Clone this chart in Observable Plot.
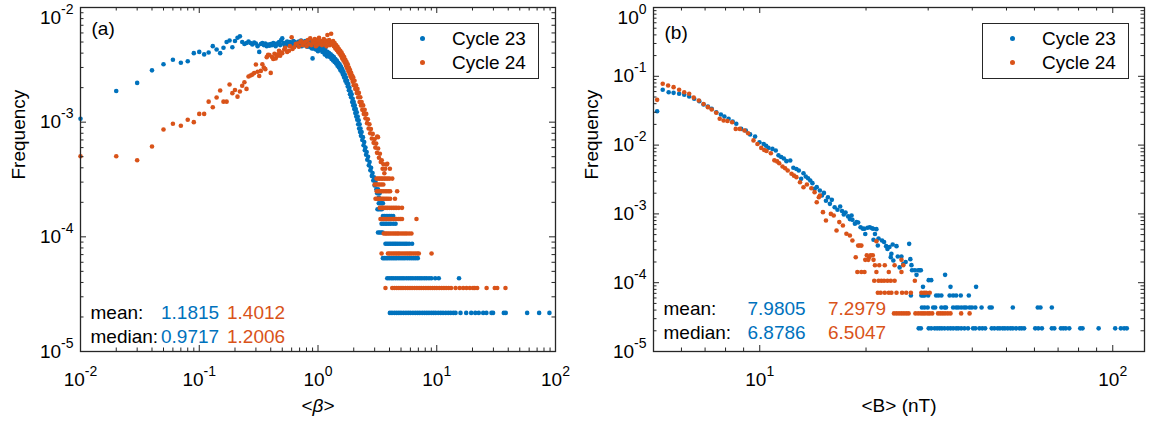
<!DOCTYPE html>
<html><head><meta charset="utf-8">
<script src="https://cdn.jsdelivr.net/npm/d3@7"></script>
<script src="https://cdn.jsdelivr.net/npm/@observablehq/plot@0.6"></script>
<style>
body{margin:0;background:#fff;}
#wrap{position:relative;width:1149px;height:421px;display:flex;font-family:"Liberation Sans",Arial,Helvetica,sans-serif;}
#wrap svg{display:block;}
.lg{position:absolute;box-sizing:border-box;border:1.5px solid #262626;background:#fff;height:56px;}
.lg .row{position:absolute;height:24px;line-height:24px;font-size:19px;color:#000;white-space:nowrap;}
.lg .dot{position:absolute;width:5px;height:5px;border-radius:50%;}
</style></head><body><div id="wrap"></div><script>
// ---------- Panel (a): <beta> ----------
const beta23Curve = [[0.01,1.07e-3],[0.02,1.87e-3],[0.03,2.2e-3],[0.04,2.83e-3],[0.05,3.2e-3],[0.06,3.5e-3],[0.07,3.3e-3],[0.08,3.4e-3],[0.09,4.0e-3],[0.10,4.1e-3],[0.11,3.9e-3],[0.12,4.05e-3],[0.13,4.6e-3],[0.14,4.3e-3],[0.15,4.0e-3],[0.16,4.45e-3],[0.17,5.0e-3],[0.18,5.15e-3],[0.19,4.5e-3],[0.20,5.1e-3],[0.21,5.45e-3],[0.22,5.6e-3],[0.23,5.0e-3],[0.24,4.8e-3],[0.25,4.9e-3],[0.26,5.05e-3],[0.27,4.9e-3],[0.28,4.75e-3],[0.29,4.95e-3],[0.30,4.85e-3],[0.31,4.6e-3],[0.32,4.1e-3],[0.33,4.8e-3],[0.34,4.9e-3],[0.35,4.7e-3],[0.36,4.85e-3],[0.37,4.6e-3],[0.38,4.75e-3],[0.39,4.65e-3],[0.40,4.8e-3],[0.41,4.7e-3],[0.42,4.9e-3],[0.43,4.75e-3],[0.44,4.6e-3],[0.45,4.85e-3],[0.46,4.8e-3],[0.47,5.0e-3],[0.48,4.7e-3],[0.49,5.2e-3],[0.50,5.4e-3],
[0.51,4.9e-3],[0.52,4.75e-3],[0.53,4.6e-3],[0.54,4.95e-3],[0.55,5.05e-3],[0.56,4.8e-3],[0.57,4.7e-3],[0.58,5.0e-3],[0.59,4.85e-3],[0.60,4.6e-3],[0.62,5.1e-3],[0.63,4.8e-3],[0.64,5.0e-3],[0.65,4.7e-3],[0.66,4.9e-3],[0.68,4.75e-3],[0.69,5.05e-3],[0.70,4.85e-3],[0.72,5.15e-3],[0.73,4.6e-3],[0.74,4.9e-3],[0.76,5.0e-3],[0.77,4.7e-3],[0.78,5.1e-3],[0.80,4.8e-3],[0.81,4.55e-3],[0.82,4.95e-3],[0.84,4.7e-3],[0.85,5.05e-3],[0.86,4.5e-3],[0.88,4.85e-3],[0.89,4.4e-3],[0.90,3.6e-3],[0.91,4.75e-3],[0.92,4.4e-3],[0.93,5.0e-3],[0.95,4.6e-3],[0.96,4.3e-3],[0.97,4.8e-3],[0.99,4.5e-3],[1.00,4.15e-3],[1.01,4.7e-3],[1.03,4.4e-3],[1.04,4.9e-3],[1.06,4.25e-3],[1.07,4.6e-3],[1.09,4.1e-3],[1.10,4.5e-3],[1.12,4.3e-3],[1.14,3.9e-3],[1.15,4.4e-3],[1.17,4.1e-3],[1.19,3.75e-3],
[1.20,4.1e-3],[1.22,3.8e-3],[1.24,4.0e-3],[1.26,3.7e-3],[1.28,3.9e-3],[1.30,3.55e-3],[1.32,3.8e-3],[1.34,3.45e-3],[1.36,3.7e-3],[1.38,3.35e-3],[1.40,3.55e-3],[1.42,3.25e-3],[1.44,3.45e-3],[1.46,3.1e-3],[1.48,3.3e-3],[1.50,3.0e-3],[1.52,3.2e-3],[1.54,2.85e-3],[1.56,3.05e-3],[1.58,2.75e-3],[1.60,2.9e-3],[1.62,2.6e-3],[1.64,2.75e-3],[1.66,2.45e-3],[1.68,2.6e-3],[1.70,2.3e-3],[1.72,2.45e-3],[1.74,2.2e-3],[1.76,2.3e-3],[1.78,2.05e-3],[1.80,2.15e-3],[1.82,1.9e-3],[1.84,2.0e-3],[1.86,1.75e-3],[1.88,1.85e-3],[1.90,1.65e-3],[1.92,1.75e-3],[1.94,1.5e-3],[1.96,1.6e-3],[1.98,1.4e-3],[2.00,1.5e-3],[2.02,1.3e-3],[2.04,1.4e-3],[2.06,1.2e-3],[2.08,1.3e-3],[2.10,1.12e-3],[2.12,1.22e-3],[2.14,1.05e-3],[2.16,1.12e-3],[2.18,9.6e-4],[2.20,1.04e-3],[2.22,8.8e-4],[2.24,9.6e-4],[2.26,8.2e-4],[2.28,8.8e-4],[2.30,7.6e-4],[2.33,8.2e-4],[2.36,7.0e-4],[2.39,7.4e-4],[2.42,6.3e-4],[2.45,6.7e-4],[2.48,5.7e-4],[2.51,6.0e-4],[2.54,5.2e-4],[2.57,5.5e-4],[2.60,4.7e-4],[2.64,5.0e-4],[2.68,4.2e-4],[2.72,4.5e-4],[2.76,3.8e-4],[2.80,4.0e-4],[2.84,3.4e-4],[2.88,3.6e-4],[2.92,3.1e-4],[2.96,3.3e-4],[3.00,2.8e-4],[3.05,3.0e-4],[3.10,2.6e-4],[3.15,2.4e-4],[3.20,2.6e-4],[3.25,2.2e-4],[3.30,2.4e-4]];
const beta23Levels = [2.17e-5,4.35e-5,6.52e-5,8.7e-5,1.09e-4,1.3e-4,1.52e-4,1.74e-4,1.96e-4];
const beta23Rows = [
 [4.03,4.2,4.4,4.6,4.8,5.0,5.25,5.5,5.75,6.0,6.3,6.6,6.9,7.2,7.55,7.9,8.25,8.6,9.0,9.4,9.8,10.3,10.8,11.3,11.9,12.5,13.1,13.8,14.4,15.85,17.7,19.5,21.1,22.6,24.6,26.2,28.9,29.8,36.7,38.1,57.7,72.8,88.9],
 [3.83,3.98,4.15,4.3,4.5,4.7,4.9,5.1,5.3,5.55,5.8,6.05,6.3,6.6,6.9,7.2,7.5,7.85,8.2,8.6,9.0,9.7,10.4,15.4],
 [3.52,3.62,3.74,3.86,4.0,4.15,4.3,4.45,4.6,4.8,5.0,5.2,5.4,5.65,5.9,6.15,6.4,6.65,6.92],
 [3.70,3.82,3.95,4.08,4.22,4.36,4.5,4.65,4.82,5.0,5.2,5.4,5.6,5.85,6.2],
 [3.2,3.3,3.4,3.5],
 [3.43,3.55,3.68,3.8,3.95,4.1,4.3,4.5],
 [3.52,3.62,3.75,3.88,4.02,4.15,4.3],
 [3.17,3.25,3.35,3.45],
 [3.25,3.35,3.45,3.52]];
const beta24Curve = [[0.01,5.05e-4],[0.02,5.05e-4],[0.03,4.66e-4],[0.04,6.14e-4],[0.05,8.63e-4],[0.06,9.68e-4],[0.07,9.3e-4],[0.08,1.05e-3],[0.09,1.0e-3],[0.10,1.18e-3],[0.11,1.18e-3],[0.12,1.51e-3],[0.13,1.35e-3],[0.14,1.64e-3],[0.15,1.89e-3],[0.16,1.51e-3],[0.17,1.51e-3],[0.18,2.13e-3],[0.19,1.79e-3],[0.20,1.91e-3],[0.21,1.67e-3],[0.22,1.85e-3],[0.23,2.08e-3],[0.24,2.23e-3],[0.25,1.95e-3],[0.26,2.5e-3],[0.27,2.55e-3],[0.28,2.6e-3],[0.29,2.68e-3],[0.30,3.18e-3],[0.31,2.75e-3],[0.32,2.53e-3],[0.33,2.8e-3],[0.34,3.2e-3],[0.35,3.0e-3],[0.36,2.9e-3],[0.37,3.69e-3],[0.38,3.87e-3],[0.39,3.85e-3],[0.40,2.69e-3],[0.41,3.7e-3],[0.42,3.55e-3],[0.43,3.95e-3],[0.44,3.6e-3],[0.45,3.75e-3],[0.46,3.9e-3],[0.47,4.2e-3],[0.48,3.8e-3],[0.49,4.05e-3],[0.50,4.0e-3],
[0.52,4.3e-3],[0.53,4.45e-3],[0.55,4.1e-3],[0.57,4.2e-3],[0.58,4.6e-3],[0.60,5.5e-3],[0.61,4.35e-3],[0.63,4.5e-3],[0.65,4.8e-3],[0.67,4.85e-3],[0.69,4.55e-3],[0.71,5.0e-3],[0.72,5.1e-3],[0.74,4.7e-3],[0.76,4.9e-3],[0.78,5.0e-3],[0.80,4.6e-3],[0.82,5.2e-3],[0.84,4.8e-3],[0.86,5.4e-3],[0.88,4.7e-3],[0.90,5.1e-3],[0.92,4.9e-3],[0.94,5.3e-3],[0.96,4.6e-3],[0.97,4.9e-3],[0.99,5.2e-3],[1.00,4.75e-3],[1.02,5.45e-3],[1.04,4.9e-3],[1.06,5.1e-3],[1.08,4.7e-3],[1.10,5.0e-3],[1.12,5.3e-3],[1.14,4.8e-3],[1.16,5.15e-3],[1.18,4.6e-3],[1.20,5.75e-3],[1.22,4.95e-3],[1.24,5.2e-3],[1.26,4.7e-3],[1.29,5.9e-3],[1.30,5.0e-3],[1.32,4.8e-3],[1.34,5.1e-3],[1.36,4.6e-3],[1.38,4.9e-3],[1.40,4.4e-3],[1.42,4.7e-3],[1.44,4.25e-3],[1.46,4.55e-3],[1.48,4.1e-3],[1.50,4.35e-3],[1.52,3.95e-3],[1.54,4.2e-3],[1.56,3.8e-3],[1.58,4.05e-3],[1.60,3.6e-3],[1.62,3.85e-3],[1.64,3.45e-3],[1.66,3.7e-3],[1.68,3.3e-3],[1.70,3.5e-3],[1.72,3.1e-3],[1.74,3.35e-3],[1.76,2.95e-3],[1.78,3.2e-3],[1.80,2.8e-3],[1.82,3.0e-3],[1.84,2.65e-3],[1.86,2.85e-3],[1.88,2.5e-3],[1.90,2.7e-3],[1.92,2.4e-3],[1.94,2.55e-3],[1.96,2.25e-3],[1.98,2.45e-3],[2.00,2.1e-3],[2.03,2.3e-3],[2.06,1.95e-3],[2.09,2.1e-3],[2.12,1.8e-3],[2.15,1.95e-3],[2.18,1.65e-3],[2.21,1.8e-3],[2.24,1.5e-3],[2.27,1.65e-3],[2.30,1.4e-3],[2.33,1.5e-3],[2.36,1.28e-3],[2.40,1.4e-3],[2.43,1.18e-3],[2.47,1.28e-3],[2.51,1.08e-3],[2.55,1.18e-3],[2.59,9.8e-4],[2.63,1.06e-3],[2.67,8.8e-4],[2.71,9.6e-4],[2.75,8.0e-4],[2.79,8.7e-4],[2.84,7.2e-4],[2.89,7.9e-4],[2.94,6.6e-4],[2.99,7.1e-4],[3.04,6.0e-4],[3.09,6.5e-4],[3.15,7.5e-4],[3.20,7.4e-4],[3.14,5.4e-4],[3.21,5.9e-4],[3.26,4.9e-4],[3.32,5.3e-4],[3.38,4.5e-4],[3.44,4.65e-4],[3.50,3.93e-4],[3.56,4.3e-4],[3.62,3.58e-4],[3.68,3.93e-4],[3.78,4.28e-4],[3.83,4.33e-4],[4.03,3.92e-4]];
const beta24Levels = [3.58e-5,7.16e-5,1.07e-4,1.43e-4,1.79e-4,2.15e-4,2.5e-4,2.86e-4,3.22e-4];
const beta24Rows = [
 [3.70,4.22,4.4,4.6,4.8,5.0,5.2,5.45,5.7,5.95,6.2,6.5,6.8,7.1,7.4,7.75,8.1,8.45,8.8,9.2,9.6,10.0,10.5,11.0,11.5,12.0,12.6,13.2,14.4,15.6,16.7,17.8,19.0,20.2,20.9,21.9,26.3,30.8,32.3,37.9],
 [3.43,3.88,4.0,4.15,4.3,4.45,4.6,4.75,4.9,5.1,5.3,5.5,5.7,5.9,6.1,6.35,6.6,6.85,7.06,9.04],
 [3.58,3.7,3.8,3.92,4.05,4.2,4.35,4.5,4.65,4.8,5.0,5.2,5.4,5.6,5.85,6.12],
 [3.36,3.46,3.56,3.66,3.78,3.9,4.02,4.15,4.3,4.45,4.6,4.8,4.95,5.1,6.75],
 [3.31,3.42,3.52,3.62,3.74,3.86,4.0,4.15,4.3,4.45,4.6,4.8,5.1],
 [3.05,3.15,3.25,3.35,3.45,3.55,3.66,3.78,3.9,4.05,4.45],
 [3.12,3.22,3.33,3.44,3.55,3.68,3.8,3.93,4.05,4.64],
 [3.0,3.1,3.2,3.3,3.42,3.55],
 [3.11,3.2,3.3,3.4,3.5,3.62,3.74,3.87,4.0,4.22]];
const betaMean = ["1.1815","1.4012"];
const betaMedian = ["0.9717","1.2006"];

// ---------- Panel (b): <B> (nT) ----------
const b23Curve = [[5.12,3.11e-2],[5.31,6.36e-2],[5.52,5.87e-2],[5.70,5.75e-2],[5.91,5.57e-2],[6.11,5.38e-2],[6.31,5.09e-2],[6.52,4.71e-2],[6.74,4.35e-2],[6.93,3.89e-2],[7.13,3.64e-2],[7.31,3.37e-2],[7.53,3.0e-2],[7.76,2.79e-2],[7.94,2.6e-2],[8.16,2.41e-2],[8.38,2.2e-2],[8.58,2.04e-2],[8.86,1.72e-2],[9.13,1.63e-2],[9.39,1.43e-2],[9.70,1.33e-2],[9.98,1.1e-2],[10.26,1.04e-2],[10.42,9.8e-3],[10.58,9.1e-3],[10.86,8.8e-3],[11.1,8.35e-3],[11.3,7.1e-3],[11.5,6.7e-3],[11.7,6.4e-3],[11.9,5.84e-3],[12.2,5.97e-3],[12.45,4.68e-3],[12.7,4.5e-3],[12.9,4.27e-3],[13.1,3.23e-3],[13.3,3.9e-3],[13.5,3.5e-3],[13.7,3.3e-3],[13.9,3.06e-3],[14.1,2.8e-3],[14.3,2.31e-3],[14.5,2.45e-3],[14.8,2.19e-3],[15.0,1.85e-3],[15.2,2.02e-3],[15.4,1.55e-3],[15.6,1.75e-3],[15.8,1.4e-3],[16.0,1.6e-3],[16.3,1.25e-3],[16.6,1.15e-3],[16.9,1.28e-3],[17.1,1.1e-3],[17.3,9.8e-4],[17.5,1.05e-3],[17.8,9.2e-4],[18.0,8.4e-4],[18.2,9.5e-4],[18.3,8.2e-4],[18.6,7.2e-4],[18.8,7.6e-4],[19.0,7.5e-4],[19.3,6.4e-4],[19.6,6.1e-4],[19.8,6.07e-4],[19.9,5.1e-4],[20.2,6.3e-4],[20.5,6.4e-4],[20.8,6.2e-4],[20.95,6.07e-4],[21.0,4.2e-4],[21.2,5.1e-4],[21.4,6.0e-4],[21.6,3.47e-4],[21.7,4.4e-4],[22.2,4.1e-4],[22.5,3.9e-4],[22.8,3.4e-4],[23.0,3.1e-4],[23.3,3.3e-4],[23.5,2.35e-4],[23.6,2.63e-4],[23.8,3.6e-4],[23.9,2.1e-4],[24.4,3.4e-4],[24.6,2.4e-4],[24.9,1.67e-4],[25.2,2.4e-4],[25.5,1.87e-4],[25.9,2.0e-4],[26.5,3.67e-4],[26.7,2.2e-4],[26.9,1.8e-4]];
const b23Levels = [2.17e-5,4.35e-5,6.52e-5,8.7e-5,1.09e-4,1.3e-4,1.52e-4];
const b23Rows = [
 [28.2,28.6,30.1,30.6,31.3,31.8,32.3,32.8,33.4,34.1,34.7,35.3,36.0,36.5,37.2,38.0,38.9,40.2,40.8,41.9,42.7,43.5,45.4,46.2,47.2,47.9,48.8,49.5,50.4,51.3,52.1,53.2,54.4,55.2,56.1,60.3,61.5,63.0,67.2,68.3,71.3,72.4,73.6,75.3,80.9,82.1,91.2,101.6,105.4,107.7,109.6],
 [28.8,29.3,29.9,31.0,31.4,32.7,33.4,33.7,35.3,36.0,36.5,37.2,37.9,38.4,39.3,39.9,40.8,42.5,44.8,45.4,52.1,61.3,62.4,67.2],
 [26.8,28.7,29.0,29.3,30.0,31.6,32.1,32.7,34.5,35.3,36.0,37.1,39.1],
 [29.0,34.7,41.0],
 [30.1,30.6],
 [27.8,33.5],
 [27.0,27.5,28.1,28.4,28.6]];
const b24Curve = [[5.12,4.55e-2],[5.31,7.78e-2],[5.5,7.35e-2],[5.7,6.95e-2],[5.91,6.36e-2],[6.11,5.87e-2],[6.31,5.57e-2],[6.5,4.9e-2],[6.72,4.45e-2],[6.93,3.95e-2],[7.13,3.56e-2],[7.31,3.3e-2],[7.53,2.95e-2],[7.7,2.41e-2],[7.9,2.28e-2],[8.1,2.24e-2],[8.35,2.15e-2],[8.55,1.72e-2],[8.78,1.72e-2],[9.05,1.63e-2],[9.27,1.49e-2],[9.6,1.17e-2],[9.85,1.04e-2],[10.1,9.1e-3],[10.3,8.5e-3],[10.45,8.2e-3],[10.75,7.6e-3],[11.0,6.0e-3],[11.2,5.8e-3],[11.35,5.45e-3],[11.6,4.89e-3],[11.8,4.6e-3],[12.0,4.27e-3],[12.3,3.83e-3],[12.5,3.6e-3],[12.7,3.42e-3],[13.0,2.89e-3],[13.3,2.44e-3],[13.6,2.67e-3],[14.0,2.36e-3],[14.3,2.07e-3],[14.5,1.48e-3],[14.7,1.75e-3],[14.8,1.85e-3],[15.1,1.06e-3],[15.4,8.0e-4],[15.9,1.0e-3],[16.2,9.5e-4],[16.5,5.74e-4],[16.8,7.6e-4],[17.2,6.78e-4],[17.6,5.14e-4],[18.0,4.85e-4],[18.3,4.1e-4],[18.7,2.34e-4],[19.0,3.46e-4],[19.2,3.47e-4],[19.4,3.46e-4],[20.4,2.34e-4],[20.9,2.5e-4],[21.4,4.0e-4]];
const b24Levels = [3.58e-5,7.16e-5,1.07e-4,1.43e-4,1.79e-4,2.15e-4,2.5e-4];
const b24Rows = [
 [24.0,24.4,24.8,25.2,25.6,26.0,26.4,27.6,28.1,28.6,29.0,29.4,29.9,30.3,30.8,32.0,32.5,33.0,33.5,34.1,34.7,37.2,39.3],
 [21.6,22.0,22.6,23.2,23.6,24.4,25.3,26.0,26.8,28.7,29.2,29.6,30.3],
 [21.1,21.7,22.1,22.5,23.0,23.5,24.1,27.5],
 [18.9,19.4,19.8,21.4,23.2,25.2],
 [21.2,21.8,22.6,24.1,25.5],
 [19.9,20.3,21.0,25.2],
 [20.1,20.6]];
const bMean = ["7.9805","7.2979"];
const bMedian = ["6.8786","6.5047"];

const seriesNames = ["Cycle 23","Cycle 24"];
const seriesColors = ["#0072BD","#D95319"];

// ---------- drawing ----------
const H = 421, MT = 7, MB = 70, AX = "#262626";
const FONT = "'Liberation Sans', Arial, Helvetica, sans-serif";

function toPoints(curve, levels, rows) {
  const pts = curve.map(([x, y]) => ({x, y}));
  rows.forEach((xs, i) => xs.forEach(x => pts.push({x, y: levels[i]})));
  return pts;
}
function minorTicks(domain) {
  const out = [];
  for (let e = Math.floor(Math.log10(domain[0])); e < Math.ceil(Math.log10(domain[1])); e++)
    for (let m = 2; m <= 9; m++) { const v = m * Math.pow(10, e); if (v > domain[0] * 1.0001 && v < domain[1] * 0.9999) out.push(v); }
  return out;
}
function majorTicks(domain) {
  const out = [];
  for (let e = Math.ceil(Math.log10(domain[0]) - 1e-9); e <= Math.floor(Math.log10(domain[1]) + 1e-9); e++) out.push(Math.pow(10, e));
  return out;
}

function panel(cfg) {
  const innerW = cfg.width - cfg.marginLeft - cfg.marginRight;
  const innerH = H - MT - MB;
  const xMaj = majorTicks(cfg.xDomain), xMin = minorTicks(cfg.xDomain);
  const yMaj = majorTicks(cfg.yDomain), yMin = minorTicks(cfg.yDomain);
  const fmt = d => "10^" + Math.round(Math.log10(d));
  const tk = {stroke: AX, strokeWidth: 1};
  const txt = (s, o) => Plot.text([s], {text: d => d, fontSize: 19, lineAnchor: "middle", ...o});
  const svg = Plot.plot({
    width: cfg.width, height: H,
    marginLeft: cfg.marginLeft, marginRight: cfg.marginRight, marginTop: MT, marginBottom: MB,
    x: {type: "log", domain: cfg.xDomain},
    y: {type: "log", domain: cfg.yDomain},
    style: {fontFamily: FONT, fontSize: "19px", color: AX, background: "white", overflow: "visible"},
    marks: [
      Plot.axisX(xMaj, {anchor: "bottom", tickSize: 0, tickPadding: 21, tickFormat: fmt, label: null}),
      Plot.axisY(yMaj, {anchor: "left", tickSize: 0, tickPadding: 7, tickFormat: fmt, label: null}),
      Plot.dot(cfg.pts[0], {x: "x", y: "y", r: 2.3, fill: seriesColors[0]}),
      Plot.dot(cfg.pts[1], {x: "x", y: "y", r: 2.3, fill: seriesColors[1]}),
      Plot.tickX(xMaj, {x: d => d, insetTop: innerH - 6, ...tk}),
      Plot.tickX(xMaj, {x: d => d, insetBottom: innerH - 6, ...tk}),
      Plot.tickX(xMin, {x: d => d, insetTop: innerH - 3.5, ...tk}),
      Plot.tickX(xMin, {x: d => d, insetBottom: innerH - 3.5, ...tk}),
      Plot.tickY(yMaj, {y: d => d, insetRight: innerW - 6, ...tk}),
      Plot.tickY(yMaj, {y: d => d, insetLeft: innerW - 6, ...tk}),
      Plot.tickY(yMin, {y: d => d, insetRight: innerW - 3.5, ...tk}),
      Plot.tickY(yMin, {y: d => d, insetLeft: innerW - 3.5, ...tk}),
      Plot.frame({stroke: AX, strokeWidth: 1.3}),
      txt(cfg.tag, {frameAnchor: "top-left", dx: 11, dy: cfg.tagDy, textAnchor: "start", fill: "#000"}),
      txt("mean:", {frameAnchor: "bottom-left", dx: 10, dy: cfg.statDy[0], textAnchor: "start", fill: "#000"}),
      txt("median:", {frameAnchor: "bottom-left", dx: 10, dy: cfg.statDy[1], textAnchor: "start", fill: "#000"}),
      txt(cfg.mean[0], {frameAnchor: "bottom-left", dx: cfg.statDx[0], dy: cfg.statDy[0], textAnchor: "start", fill: seriesColors[0]}),
      txt(cfg.mean[1], {frameAnchor: "bottom-left", dx: cfg.statDx[1], dy: cfg.statDy[0], textAnchor: "start", fill: seriesColors[1]}),
      txt(cfg.median[0], {frameAnchor: "bottom-left", dx: cfg.statDx[0], dy: cfg.statDy[1], textAnchor: "start", fill: seriesColors[0]}),
      txt(cfg.median[1], {frameAnchor: "bottom-left", dx: cfg.statDx[1], dy: cfg.statDy[1], textAnchor: "start", fill: seriesColors[1]}),
      txt("Frequency", {frameAnchor: "left", rotate: -90, dx: -62, fill: "#000"}),
      txt(cfg.xLabel, {frameAnchor: "bottom", dy: 54, fill: "#000"})
    ]
  });
  const topExp = String(Math.round(Math.log10(cfg.yDomain[1])));
  // superscript exponents on log tick labels
  d3.select(svg).selectAll('[aria-label$="tick label"]').attr("font-size", null).style("font-size", "19px");
  d3.select(svg).selectAll('[aria-label$="tick label"] text').each(function () {
    const m = this.textContent.match(/^10\^(-?\d+)$/);
    if (!m) return;
    const t = d3.select(this);
    t.style("font-size", "19px").attr("fill", "#000");
    t.text("10");
    t.append("tspan").attr("dy", -10).style("font-size", "14px").text(m[1]);
    // the top y label sits a little lower so that it stays inside the picture
    if (this.closest('[aria-label="y-axis tick label"]') && m[1] === topExp) t.attr("dy", "0.32em").attr("y", 10);
  });
  // italic beta in axis label
  d3.select(svg).selectAll("text").each(function () {
    if (this.textContent === "<β>") {
      const t = d3.select(this);
      t.text("<");
      t.append("tspan").attr("font-style", "italic").text("β");
      t.append("tspan").text(">");
    }
  });
  return svg;
}

const wrap = document.getElementById("wrap");
wrap.appendChild(panel({
  width: 580, marginLeft: 80, marginRight: 25,
  xDomain: [0.01, 100], yDomain: [1e-5, 1e-2],
  pts: [toPoints(beta23Curve, beta23Levels, beta23Rows), toPoints(beta24Curve, beta24Levels, beta24Rows)],
  tag: "(a)", tagDy: 21, xLabel: "<β>",
  mean: betaMean, median: betaMedian, statDx: [80.5, 146.5], statDy: [-39, -15]
}));
wrap.appendChild(panel({
  width: 569, marginLeft: 73, marginRight: 5,
  xDomain: [5, 123], yDomain: [1e-5, 1],
  pts: [toPoints(b23Curve, b23Levels, b23Rows), toPoints(b24Curve, b24Levels, b24Rows)],
  tag: "(b)", tagDy: 25, xLabel: "<B> (nT)",
  mean: bMean, median: bMedian, statDx: [94, 174.5], statDy: [-42.5, -18.5]
}));

function legend(left) {
  const box = document.createElement("div");
  box.className = "lg";
  box.style.left = left + "px"; box.style.top = "23px"; box.style.width = "147px";
  seriesNames.forEach((name, i) => {
    const dot = document.createElement("span");
    dot.className = "dot";
    dot.style.background = seriesColors[i];
    dot.style.left = "27px"; dot.style.top = (12 + 24 * i) + "px";
    box.appendChild(dot);
    const row = document.createElement("div");
    row.className = "row";
    row.style.left = "59px"; row.style.top = (2.5 + 24 * i) + "px";
    row.textContent = name;
    box.appendChild(row);
  });
  wrap.appendChild(box);
}
legend(392);
legend(982);
</script></body></html>
